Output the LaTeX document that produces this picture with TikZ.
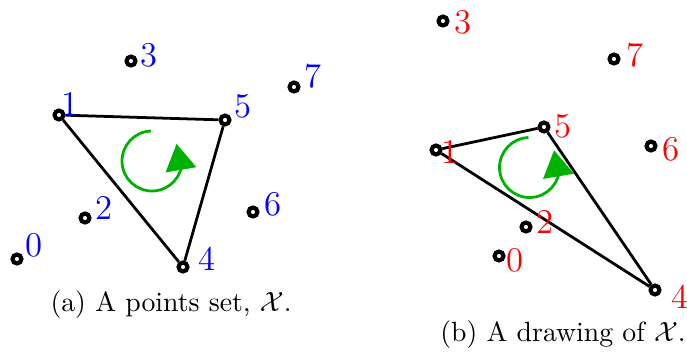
\documentclass[tikz,border=0pt]{standalone}
\usetikzlibrary{arrows.meta,bending}
\begin{document}
\begin{tikzpicture}[x=0.36pt,y=-0.36pt,
  pt/.style={circle,draw=black,line width=1.5pt,fill=white,minimum size=3.2pt,inner sep=0pt},
  edge/.style={line width=1pt,black},
  lblL/.style={text=blue,inner sep=0pt,font=\fontsize{12.5}{14}\selectfont},
  lblR/.style={text=red,inner sep=0pt,font=\fontsize{12.5}{14}\selectfont},
  rot/.style={draw=green!70!black,line width=1pt,-{Triangle[length=9.5pt,width=11pt,fill=green!70!black]}},
  captxt/.style={inner sep=0pt,font=\normalsize}]
\useasboundingbox (0,0) rectangle (687,351);
% ---- left panel
\coordinate (cL) at (152,161);
\draw[rot] (cL) ++(92:10.8pt) arc[start angle=92, end angle=395, radius=10.8pt];
\node[pt] (a0) at (17,259) {};
\node[pt] (a1) at (59,115) {};
\node[pt] (a2) at (85,218) {};
\node[pt] (a3) at (131,61) {};
\node[pt] (a4) at (183,267) {};
\node[pt] (a5) at (225,120) {};
\node[pt] (a6) at (253,212) {};
\node[pt] (a7) at (294,87) {};
\draw[edge] (a1) -- (a5) -- (a4) -- (a1);
\node[lblL] (ta0) at (34,245) {0};
\node[lblL] (ta1) at (70,104) {1};
\node[lblL] (ta2) at (104,208) {2};
\node[lblL] (ta3) at (149,55) {3};
\node[lblL] (ta4) at (207,259) {4};
\node[lblL] (ta5) at (243,106) {5};
\node[lblL] (ta6) at (273,204) {6};
\node[lblL] (ta7) at (313,76) {7};
\node[captxt] (capa) at (171,304.5) {(a) A points set, $\mathcal{X}$.};
% ---- right panel
\coordinate (cR) at (529.5,167.5);
\draw[rot] (cR) ++(92:10.8pt) arc[start angle=92, end angle=395, radius=10.8pt];
\node[pt] (b0) at (499,256) {};
\node[pt] (b1) at (436,150) {};
\node[pt] (b2) at (526,227) {};
\node[pt] (b3) at (443,21) {};
\node[pt] (b4) at (655,290) {};
\node[pt] (b5) at (544,127) {};
\node[pt] (b6) at (651,146) {};
\node[pt] (b7) at (614,59) {};
\draw[edge] (b1) -- (b5) -- (b4) -- (b1);
\node[lblR] (tb0) at (515,260) {0};
\node[lblR] (tb1) at (450,152) {1};
\node[lblR] (tb2) at (545,222) {2};
\node[lblR] (tb3) at (463,22) {3};
\node[lblR] (tb4) at (680,297) {4};
\node[lblR] (tb5) at (563,126) {5};
\node[lblR] (tb6) at (671,149) {6};
\node[lblR] (tb7) at (635,55) {7};
\node[captxt] (capb) at (563,334.5) {(b) A drawing of $\mathcal{X}$.};
\end{tikzpicture}
\end{document}
